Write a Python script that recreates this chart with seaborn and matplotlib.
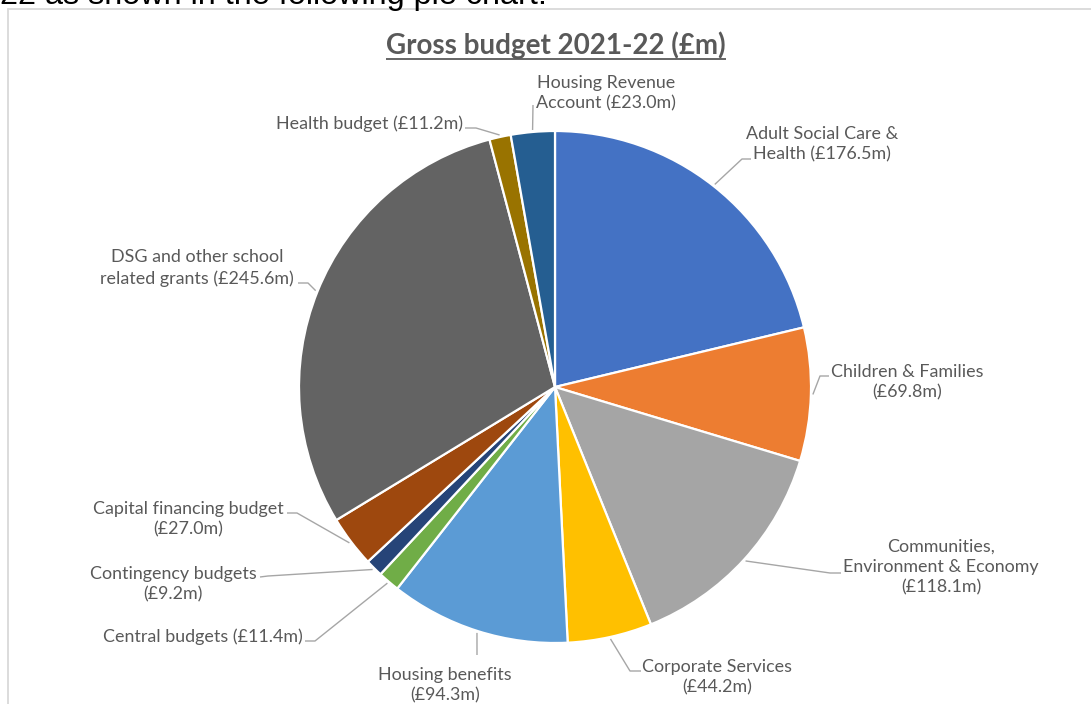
import matplotlib
matplotlib.use("Agg")
import matplotlib.pyplot as plt
import seaborn as sns
import numpy as np

# Gross budget 2021-22, £m
categories = [
    "Adult Social Care &\nHealth",
    "Children & Families",
    "Communities,\nEnvironment & Economy",
    "Corporate Services",
    "Housing benefits",
    "Central budgets",
    "Contingency budgets",
    "Capital financing budget",
    "DSG and other school\nrelated grants",
    "Health budget",
    "Housing Revenue\nAccount",
]
values = [176.5, 69.8, 118.1, 44.2, 94.3, 11.4, 9.2, 27.0, 245.6, 11.2, 23.0]
# separator between a category name and its amount
value_sep = [" ", "\n", "\n", "\n", "\n", " ", "\n", "\n", " ", " ", " "]
colors = ["#4472C4", "#ED7D31", "#A5A5A5", "#FFC000", "#5B9BD5", "#70AD47",
          "#264478", "#9E480E", "#636363", "#997300", "#255E91"]

# label placement in pixel space: (x, y, horizontal alignment),
# plus the knee and end of each leader line
label_pos = [
    (822, 144, "center"), (907, 382, "center"), (941, 567, "center"),
    (717, 677, "center"), (445, 685, "center"), (303, 637, "right"),
    (173, 584, "center"), (188, 519, "center"), (197, 268, "center"),
    (463, 124, "right"), (606, 93, "center"),
]
leader_knee = [(742, 159), (820, 376), (830, 573), (630, 671), (477, 655),
               (315, 641), (268, 576), (297, 513), (308, 283), (476, 128),
               (533, 105)]
leader_end = [(751, 159), (829, 376), (841, 573), (641, 671), (477, 655),
              (305, 641), (260, 577), (287, 513), (298, 283), (465, 128),
              (533, 105)]

W, H = 1091, 704
CX, CY, R = 555, 387, 256

sns.set_theme(style="white")
plt.rcParams["font.family"] = ["Lato", "DejaVu Sans"]

fig = plt.figure(figsize=(W / 100, H / 100), dpi=100)
ax = fig.add_axes([0, 0, 1, 1])

# pixel-like coordinates with y growing downward: start at 12 o'clock, go clockwise
wedges, _ = ax.pie(
    values, colors=colors, center=(CX, CY), radius=R,
    startangle=270, counterclock=True,
    wedgeprops=dict(edgecolor="white", linewidth=1.6),
)
ax.set_xlim(0, W)
ax.set_ylim(H, 0)
ax.set_aspect("equal")
ax.axis("off")

TEXT = "#595959"
LINE = "#A6A6A6"
fs = 12.9
line_px = 24
spacing = line_px / (fs * 100 / 72)

for w, name, v, sep, (tx, ty, ha), knee, end in zip(
        wedges, categories, values, value_sep, label_pos, leader_knee, leader_end):
    mid = np.deg2rad((w.theta1 + w.theta2) / 2)
    ex = CX + (R + 2) * np.cos(mid)
    ey = CY + (R + 2) * np.sin(mid)
    ax.plot([ex, knee[0], end[0]], [ey, knee[1], end[1]], color=LINE, lw=1.0,
            solid_capstyle="butt", zorder=1)
    ax.text(tx, ty, f"{name}{sep}(£{v:.1f}m)", ha=ha, va="center",
            multialignment="center", fontsize=fs, color=TEXT,
            linespacing=spacing)

# title with underline
title = ax.text(556, 45, "Gross budget 2021-22 (£m)", ha="center", va="center",
                fontsize=20, fontweight="bold", color=TEXT)
fig.canvas.draw()
bb = title.get_window_extent(renderer=fig.canvas.get_renderer())
ax.plot([bb.x0, bb.x1], [59, 59], color=TEXT, lw=1.3, solid_capstyle="butt")

# chart frame and the tail of the preceding sentence
ax.plot([8, W + 5], [9, 9], color="#D9D9D9", lw=1.3, clip_on=False)
ax.plot([8, 8], [9, H + 5], color="#D9D9D9", lw=1.3, clip_on=False)
ax.text(0, 4, "22 as shown in the following pie chart.", ha="left",
        va="baseline", fontsize=23.3, color="black",
        family=["Liberation Sans", "DejaVu Sans"])

fig.savefig("out.png", dpi=100)
